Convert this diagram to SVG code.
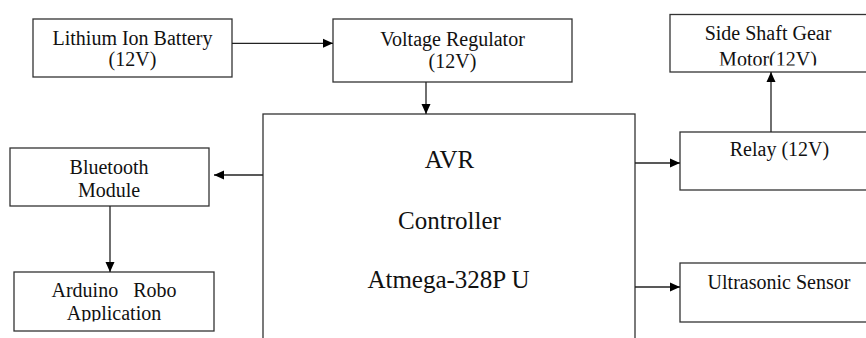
<svg xmlns="http://www.w3.org/2000/svg" width="866" height="338" viewBox="0 0 866 338" font-family="'Liberation Serif', 'Times New Roman', Times, serif">
  <style>
    .box { fill: #fff; stroke: #333; stroke-width: 1.3; }
    .t { font-family: 'Liberation Serif', 'Times New Roman', Times, serif; font-size: 20px; fill: #111; text-anchor: middle; white-space: pre; }
    .big { font-size: 25px; }
    .c { stroke: #222; stroke-width: 1.3; fill: none; marker-end: url(#ah); }
  </style>
  <defs>
    <marker id="ah" viewBox="0 0 10 10" refX="10" refY="5" markerWidth="10" markerHeight="10" markerUnits="userSpaceOnUse" orient="auto">
      <path d="M0,0.5 L10,5 L0,9.5 Z" fill="#000"/>
    </marker>
    <clipPath id="clipSide"><rect x="671" y="15" width="200" height="50.5"/></clipPath>
    <clipPath id="clipArd"><rect x="15" y="273" width="199" height="48.5"/></clipPath>
  </defs>
  <rect width="866" height="338" fill="#fff"/>

  <g id="battery">
    <rect class="box" x="33" y="19" width="199" height="58"/>
    <text class="t" x="132.5" y="45" font-family="Liberation Serif, serif">Lithium Ion Battery</text>
    <text class="t" x="132.5" y="66" font-family="Liberation Serif, serif">(12V)</text>
  </g>

  <g id="regulator">
    <rect class="box" x="333" y="19" width="239" height="63"/>
    <text class="t" x="452.5" y="46">Voltage Regulator</text>
    <text class="t" x="452.5" y="68">(12V)</text>
  </g>

  <g id="motor">
    <rect class="box" x="670" y="14.5" width="200" height="57.5"/>
    <text class="t" x="768" y="39.5">Side Shaft Gear</text>
    <text class="t" x="768" y="66" clip-path="url(#clipSide)">Motor(12V)</text>
  </g>

  <g id="avr">
    <rect class="box" x="263" y="114" width="372" height="240"/>
    <text class="t big" x="449.5" y="168">AVR</text>
    <text class="t big" x="449.5" y="229">Controller</text>
    <text class="t big" x="448.5" y="288">Atmega-328P U</text>
  </g>

  <g id="relay">
    <rect class="box" x="680" y="132" width="200" height="58"/>
    <text class="t" x="779.5" y="156">Relay (12V)</text>
  </g>

  <g id="ultrasonic">
    <rect class="box" x="680" y="263" width="200" height="59"/>
    <text class="t" x="779" y="288.5">Ultrasonic Sensor</text>
  </g>

  <g id="bluetooth">
    <rect class="box" x="10" y="148" width="199" height="58"/>
    <text class="t" x="109" y="174">Bluetooth</text>
    <text class="t" x="109" y="197">Module</text>
  </g>

  <g id="arduino">
    <rect class="box" x="14" y="272" width="200" height="59"/>
    <text class="t" x="114" y="296.5">Arduino   Robo</text>
    <text class="t" x="114" y="320" clip-path="url(#clipArd)">Application</text>
  </g>

  <g id="connectors">
    <line class="c" x1="232" y1="43.3" x2="333" y2="43.3"/>
    <line class="c" x1="426" y1="82" x2="426" y2="114"/>
    <line class="c" x1="263" y1="175" x2="214" y2="175"/>
    <line class="c" x1="110" y1="206" x2="110" y2="272"/>
    <line class="c" x1="635" y1="163" x2="680" y2="163"/>
    <line class="c" x1="635" y1="287" x2="680" y2="287"/>
    <line class="c" x1="771" y1="132" x2="771" y2="72"/>
  </g>
</svg>
